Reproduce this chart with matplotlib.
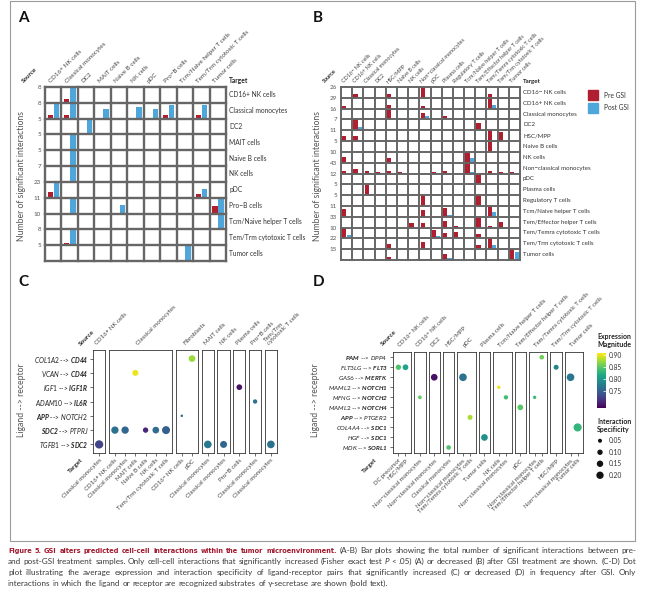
import numpy as np
import matplotlib
matplotlib.use('Agg')
import matplotlib.pyplot as plt
from matplotlib import colors, cm
from matplotlib.patches import Rectangle
from matplotlib.transforms import offset_copy

plt.rcParams['font.family'] = ['Lato', 'DejaVu Sans']
plt.rcParams['mathtext.fontset'] = 'custom'
plt.rcParams['mathtext.rm'] = 'Lato'
plt.rcParams['mathtext.it'] = 'Lato:italic'
plt.rcParams['mathtext.bf'] = 'Lato:italic:bold'

# ---- panel A: interactions increased after GSI ----
a_cells = ['CD16+ NK cells', 'Classical monocytes', 'DC2', 'MAIT cells', 'Naive B cells',
           'NK cells', 'pDC', 'Pro−B cells', 'Tcm/Naive helper T cells',
           'Tem/Trm cytotoxic T cells', 'Tumor cells']
a_row_max = [8, 8, 5, 5, 5, 7, 23, 11, 10, 8, 5]
a_target = [0, 1, 1, 1, 1, 1, 1, 1, 2, 3, 4, 5, 6, 6, 7, 7, 7, 8, 9, 10]
a_source = [1, 0, 1, 3, 5, 6, 7, 9, 2, 1, 1, 1, 0, 9, 1, 4, 10, 10, 1, 8]
a_pre = [2, 2, 2, 0, 0, 0, 2, 2, 0, 0, 0, 0, 9, 6, 0, 0, 5, 0, 1, 0]
a_post = [8, 8, 8, 5, 6, 5, 7, 7, 5, 5, 5, 7, 23, 13, 11, 6, 11, 10, 8, 5]

# ---- panel B: interactions decreased after GSI ----
b_cells = ['CD16− NK cells', 'CD16+ NK cells', 'Classical monocytes', 'DC2', 'HSC/MPP',
           'Naive B cells', 'NK cells', 'Non−classical monocytes', 'pDC', 'Plasma cells',
           'Regulatory T cells', 'Tcm/Naive helper T cells', 'Tem/Effector helper T cells',
           'Tem/Temra cytotoxic T cells', 'Tem/Trm cytotoxic T cells', 'Tumor cells']
b_row_max = [26, 29, 16, 7, 11, 5, 10, 43, 12, 5, 5, 11, 33, 10, 22, 15]
b_target = [0, 0, 0, 0, 1, 1, 1, 1, 2, 2, 2, 3, 3, 4, 4, 4, 4, 5, 6, 6, 6,
            7, 7, 7, 7, 7, 7, 7, 7, 7, 7, 7, 7, 8, 9, 10, 10, 11, 11, 11, 11,
            12, 12, 12, 12, 12, 12, 12, 13, 13, 13, 13, 13, 14, 14, 14, 14, 15, 15, 15]
b_source = [1, 4, 7, 13, 0, 4, 7, 13, 4, 7, 9, 1, 12, 0, 1, 13, 14, 13, 0, 4, 11,
            0, 1, 2, 3, 4, 5, 8, 9, 11, 13, 14, 15, 12, 2, 7, 12, 0, 7, 9, 13,
            6, 7, 9, 10, 12, 13, 14, 0, 8, 9, 10, 12, 4, 7, 12, 13, 4, 9, 15]
b_pre = [8, 8, 26, 8, 8, 9, 7, 29, 16, 10, 5, 7, 5, 5, 5, 11, 9, 5, 5, 4, 10,
         8, 17, 8, 4, 8, 6, 4, 10, 43, 10, 7, 4, 12, 5, 5, 5, 8, 7, 9, 11,
         15, 15, 20, 6, 33, 6, 18, 10, 8, 5, 6, 4, 10, 15, 8, 22, 4, 9, 15]
b_post = [0, 0, 0, 0, 0, 0, 0, 9, 0, 5, 0, 2, 0, 0, 0, 0, 0, 0, 0, 0, 4,
          0, 0, 2, 0, 0, 0, 0, 0, 4, 0, 3, 0, 0, 0, 0, 0, 0, 0, 2, 5,
          0, 0, 0, 0, 0, 0, 0, 3, 2, 0, 1, 0, 0, 0, 0, 9, 0, 3, 11]

# ---- panel C: ligand-receptor pairs increased ----
c_rows = ['COL1A2 --> CD44', 'VCAN --> CD44', 'IGF1 --> IGF1R', 'ADAM10 --> IL6R',
          'APP --> NOTCH2', 'SDC2 --> PTPRJ', 'TGFB1 --> SDC2']
c_bold = ['r', 'r', 'r', 'r', 'l', 'l', 'r']
c_sources = ['CD16+ NK cells', 'Classical monocytes', 'Fibroblasts', 'MAIT cells', 'NK cells',
             'Plasma cells', 'Pro−B cells', 'Tem/Trm cytotoxic T cells']
c_source_labels = ['CD16+ NK cells', 'Classical monocytes', 'Fibroblasts', 'MAIT cells', 'NK cells',
                   'Plasma cells', 'Pro−B cells', 'Tem/Trm\ncytotoxic T cells']
c_targets = [['Classical monocytes'],
             ['CD16+ NK cells', 'Classical monocytes', 'MAIT cells', 'Naive B cells', 'NK cells',
              'Tem/Trm cytotoxic T cells'],
             ['CD16− NK cells', 'pDC'],
             ['Classical monocytes'], ['Classical monocytes'], ['Pro−B cells'],
             ['Classical monocytes'], ['Classical monocytes']]
c_dot_source = ['Fibroblasts', 'Classical monocytes', 'Plasma cells', 'Pro−B cells', 'Fibroblasts',
                'Classical monocytes', 'Classical monocytes', 'Classical monocytes',
                'Classical monocytes', 'Classical monocytes', 'CD16+ NK cells', 'MAIT cells',
                'NK cells', 'Tem/Trm cytotoxic T cells']
c_dot_target = ['pDC', 'MAIT cells', 'Pro−B cells', 'Classical monocytes', 'CD16− NK cells',
                'CD16+ NK cells', 'Classical monocytes', 'Naive B cells', 'NK cells',
                'Tem/Trm cytotoxic T cells', 'Classical monocytes', 'Classical monocytes',
                'Classical monocytes', 'Classical monocytes']
c_dot_pair = ['COL1A2 --> CD44', 'VCAN --> CD44', 'IGF1 --> IGF1R', 'ADAM10 --> IL6R',
              'APP --> NOTCH2', 'SDC2 --> PTPRJ', 'SDC2 --> PTPRJ', 'SDC2 --> PTPRJ',
              'SDC2 --> PTPRJ', 'SDC2 --> PTPRJ', 'TGFB1 --> SDC2', 'TGFB1 --> SDC2',
              'TGFB1 --> SDC2', 'TGFB1 --> SDC2']
c_dot_expr = [0.876, 0.903, 0.69, 0.765, 0.765, 0.767, 0.756, 0.705, 0.76, 0.749,
              0.726, 0.772, 0.754, 0.767]
c_dot_spec = [0.165, 0.13, 0.115, 0.06, 0.01, 0.2, 0.2, 0.1, 0.165, 0.24,
              0.26, 0.22, 0.18, 0.22]

# ---- panel D: ligand-receptor pairs decreased ----
d_rows = ['PAM --> DPP4', 'FLT3LG --> FLT3', 'GAS6 --> MERTK', 'MAML2 --> NOTCH1',
          'MFNG --> NOTCH2', 'MAML2 --> NOTCH4', 'APP --> PTGER2', 'COL4A4 --> SDC1',
          'HGF --> SDC1', 'MDK --> SORL1']
d_bold = ['l', 'r', 'r', 'r', 'r', 'r', 'l', 'r', 'r', 'r']
d_sources = ['CD16− NK cells', 'CD16+ NK cells', 'DC2', 'HSC/MPP', 'pDC', 'Plasma cells',
             'Tcm/Naive helper T cells', 'Tem/Effector helper T cells',
             'Tem/Temra cytotoxic T cells', 'Tem/Trm cytotoxic T cells', 'Tumor cells']
d_targets = [['DC precursor', 'HSC/MPP'], ['Non−classical monocytes'], ['Non−classical monocytes'],
             ['Classical monocytes'], ['Non−classical monocytes', 'Tem/Temra cytotoxic T cells'],
             ['Tumor cells'], ['NK cells', 'Non−classical monocytes'], ['pDC'],
             ['Non−classical monocytes', 'Tem/Effector helper T cells'], ['HSC/MPP'],
             ['Non−classical monocytes', 'Tumor cells']]
d_dot_source = ['Tem/Temra cytotoxic T cells', 'CD16− NK cells', 'CD16− NK cells',
                'Tem/Trm cytotoxic T cells', 'DC2', 'pDC', 'Tumor cells',
                'Tcm/Naive helper T cells', 'CD16+ NK cells', 'Tcm/Naive helper T cells',
                'Tem/Temra cytotoxic T cells', 'Tem/Effector helper T cells', 'pDC',
                'Tumor cells', 'Plasma cells', 'HSC/MPP']
d_dot_target = ['Tem/Effector helper T cells', 'DC precursor', 'HSC/MPP', 'HSC/MPP',
                'Non−classical monocytes', 'Non−classical monocytes', 'Non−classical monocytes',
                'NK cells', 'Non−classical monocytes', 'Non−classical monocytes',
                'Non−classical monocytes', 'pDC', 'Tem/Temra cytotoxic T cells',
                'Tumor cells', 'Tumor cells', 'Classical monocytes']
d_dot_pair = ['PAM --> DPP4', 'FLT3LG --> FLT3', 'FLT3LG --> FLT3', 'FLT3LG --> FLT3',
              'GAS6 --> MERTK', 'GAS6 --> MERTK', 'GAS6 --> MERTK', 'MAML2 --> NOTCH1',
              'MFNG --> NOTCH2', 'MFNG --> NOTCH2', 'MFNG --> NOTCH2', 'MAML2 --> NOTCH4',
              'APP --> PTGER2', 'COL4A4 --> SDC1', 'HGF --> SDC1', 'MDK --> SORL1']
d_dot_expr = [0.86, 0.846, 0.813, 0.783, 0.69, 0.767, 0.772, 0.903, 0.855, 0.84, 0.836,
              0.85, 0.882, 0.832, 0.795, 0.846]
d_dot_spec = [0.07, 0.1, 0.115, 0.085, 0.165, 0.22, 0.22, 0.03, 0.04, 0.06, 0.03,
              0.115, 0.085, 0.25, 0.165, 0.07]

legend_expr_ticks = [0.75, 0.80, 0.85, 0.90]
legend_spec = [0.05, 0.10, 0.15, 0.20]

RED = '#b01f30'
BLUE = '#4fa6da'
GRID = '#666666'
NORM = colors.Normalize(0.68, 0.91)
CMAP = 'viridis'

W, H = 650, 603
fig = plt.figure(figsize=(6.5, 6.03), dpi=100)


def fx(px):
    return px / W


def fy(py):
    return 1 - py / H


def dot_size(v):
    return 129 * np.asarray(v) + 2


def lr_label(s, side):
    lig, rec = s.split(' --> ')
    if side == 'l':
        return r'$\mathbf{%s}$ --> $\mathit{%s}$' % (lig, rec)
    return r'$\mathit{%s}$ --> $\mathbf{%s}$' % (lig, rec)


def bar_panel(box, cells, row_max, tgt, src, pre, post, offs, bw, lw, fs_col, fs_row, src_off):
    # box = (left, top, right, bottom) in pixels
    l, t, r, b = box
    ax = fig.add_axes([fx(l), fy(b), (r - l) / W, (b - t) / H])
    n = len(cells)
    tgt = np.array(tgt)
    src = np.array(src)
    scale = np.array(row_max, float)[tgt]
    base = n - 1 - tgt
    ax.bar(src + offs[0], np.array(pre) / scale, bw, bottom=base, color=RED, lw=0, zorder=1)
    ax.bar(src + offs[1], np.array(post) / scale, bw, bottom=base, color=BLUE, lw=0, zorder=1)
    for k in range(n + 1):
        ax.axvline(k, color=GRID, lw=lw, zorder=3, clip_on=False)
        ax.axhline(k, color=GRID, lw=lw, zorder=3, clip_on=False)
    ax.set_xlim(0, n)
    ax.set_ylim(0, n)
    ax.set_xticks([])
    ax.set_yticks(np.arange(n, 0, -1))
    ax.set_yticklabels([str(v) for v in row_max], fontsize=4.5, color='#555')
    ax.tick_params(axis='y', length=0, pad=3)
    for sp in ax.spines.values():
        sp.set_visible(False)
    tr_row = offset_copy(ax.transData, fig=fig, x=3, y=0, units='dots')
    for i, name in enumerate(cells):
        ax.text(n, n - i - 0.5, name, transform=tr_row, ha='left', va='center',
                fontsize=fs_row, color='#333')
    ax.text(n, n, 'Target', transform=offset_copy(ax.transData, fig=fig, x=3, y=3, units='dots'),
            ha='left', va='bottom', fontsize=fs_row, fontweight='bold', color='#222')
    tr_col = offset_copy(ax.transData, fig=fig, x=-2, y=3, units='dots')
    for c, name in enumerate(cells):
        ax.text(c + 0.5, n, name, transform=tr_col, rotation=45, rotation_mode='anchor',
                ha='left', va='bottom', fontsize=fs_col, color='#444')
    ax.text(src_off, n, 'Source', transform=tr_col, rotation=45, rotation_mode='anchor',
            ha='left', va='bottom', fontsize=fs_col, fontweight='bold', color='#222')
    return ax


def dot_panel(box, gap, sources, src_labels, targets, rows, bold, d_src, d_tgt, d_pair,
              d_expr, d_spec, ex, ey, fs_tick, fs_row):
    # box = (left, top, right, bottom) in pixels
    l, t, r, b = box
    n = len(sources)
    units = [len(tg) - 1 + 2 * ex for tg in targets]
    ppu = (r - l - gap * (n - 1)) / sum(units)
    x = l
    for k, s in enumerate(sources):
        w = units[k] * ppu
        ax = fig.add_axes([fx(x), fy(b), w / W, (b - t) / H])
        x += w + gap
        sel = [i for i in range(len(d_src)) if d_src[i] == s]
        xs = [targets[k].index(d_tgt[i]) for i in sel]
        ys = [rows.index(d_pair[i]) for i in sel]
        ax.scatter(xs, ys, s=dot_size([d_spec[i] for i in sel]), c=[d_expr[i] for i in sel],
                   cmap=CMAP, norm=NORM, edgecolors='none', zorder=3, clip_on=False)
        ax.set_xlim(-ex, len(targets[k]) - 1 + ex)
        ax.set_ylim(len(rows) - 1 + ey, -ey)
        ax.set_xticks(range(len(targets[k])))
        ax.set_xticklabels(targets[k], rotation=45, ha='right', rotation_mode='anchor',
                           fontsize=fs_tick, color='#444')
        if k == 0:
            ax.set_yticks(range(len(rows)))
            ax.set_yticklabels([lr_label(rw, bs) for rw, bs in zip(rows, bold)],
                               fontsize=fs_row, color='#222')
        else:
            ax.set_yticks([])
        ax.tick_params(length=2, width=0.5, color='#333', pad=1.5)
        for sp in ax.spines.values():
            sp.set_linewidth(0.6)
            sp.set_color('#333')
        ax.text(0.5, 1, src_labels[k],
                transform=offset_copy(ax.transAxes, fig=fig, x=-1, y=4, units='dots'),
                rotation=45, rotation_mode='anchor', ha='left', va='bottom',
                fontsize=fs_tick, color='#444', linespacing=1.0)


# bar plots
bar_panel((45, 87, 226, 261), a_cells, a_row_max, a_target, a_source, a_pre, a_post,
          (0.32, 0.70), 0.33, 1.7, 4.5, 4.8, -1.15)
bar_panel((341, 87, 520, 260), b_cells, b_row_max, b_target, b_source, b_pre, b_post,
          (0.3, 0.7), 0.38, 1.4, 4.0, 4.4, -1.2)

fig.text(fx(22), fy(176), 'Number of significant interactions', rotation=90,
         ha='center', va='center', fontsize=6.2, color='#555')
fig.text(fx(318), fy(176), 'Number of significant interactions', rotation=90,
         ha='center', va='center', fontsize=6.2, color='#555')

# pre / post legend
for yy, col, lab in [(90, RED, 'Pre GSI'), (103, BLUE, 'Post GSI')]:
    fig.add_artist(Rectangle((fx(588), fy(yy + 10)), 10 / W, 10 / H, color=col,
                             transform=fig.transFigure))
    fig.text(fx(604), fy(yy + 5), lab, ha='left', va='center', fontsize=4.8, color='#333')

# dot plots
dot_panel((93, 350, 277, 453), 3.5, c_sources, c_source_labels, c_targets, c_rows, c_bold,
          c_dot_source, c_dot_target, c_dot_pair, c_dot_expr, c_dot_spec, 0.6, 0.6, 4.4, 4.8)
dot_panel((392.7, 351.7, 583.3, 453), 3, d_sources, d_sources, d_targets, d_rows, d_bold,
          d_dot_source, d_dot_target, d_dot_pair, d_dot_expr, d_dot_spec, 0.8, 0.55, 4.3, 4.6)

fig.text(fx(22), fy(400), 'Ligand --> receptor', rotation=90, ha='center', va='center',
         fontsize=6.2, color='#555')
fig.text(fx(316), fy(400), 'Ligand --> receptor', rotation=90, ha='center', va='center',
         fontsize=6.2, color='#555')

for px, py in [(82, 347), (384, 347)]:
    fig.text(fx(px), fy(py), 'Source', rotation=45, rotation_mode='anchor', ha='left',
             va='bottom', fontsize=4.6, fontweight='bold', color='#222')
for px, py in [(80, 457), (374, 457)]:
    fig.text(fx(px), fy(py), 'Target', rotation=45, rotation_mode='anchor', ha='right',
             va='top', fontsize=4.6, fontweight='bold', color='#222')

# expression colourbar
fig.text(fx(597), fy(333), 'Expression\nMagnitude', ha='left', va='top', fontsize=5,
         fontweight='bold', color='#222', linespacing=1.1)
cax = fig.add_axes([fx(597), fy(408), 9 / W, 55 / H])
cb = fig.colorbar(cm.ScalarMappable(norm=NORM, cmap=CMAP), cax=cax)
cb.set_ticks(legend_expr_ticks)
cb.set_ticklabels(['%.2f' % v for v in legend_expr_ticks])
cb.outline.set_visible(False)
cax.tick_params(length=2, width=0.5, color='white', direction='in', labelsize=4.8,
                labelcolor='#333', pad=2)

# specificity size legend
fig.text(fx(597), fy(418), 'Interaction\nSpecificity', ha='left', va='top', fontsize=5,
         fontweight='bold', color='#222', linespacing=1.1)
lax = fig.add_axes([fx(594), fy(481), 30 / W, 46 / H])
lax.scatter(np.zeros(len(legend_spec)), np.arange(len(legend_spec)),
            s=dot_size(legend_spec), color='#111', edgecolors='none')
for i, v in enumerate(legend_spec):
    lax.text(1.4, i, '%.2f' % v, ha='left', va='center', fontsize=4.8, color='#333')
lax.set_xlim(-1, 4)
lax.set_ylim(len(legend_spec) - 0.5, -0.5)
lax.axis('off')

# panel letters and border
for lab, px, py in [('A', 18, 11), ('B', 313, 11), ('C', 18, 275), ('D', 313, 275)]:
    fig.text(fx(px), fy(py), lab, ha='left', va='top', fontsize=11, fontweight='bold',
             color='#111')
fig.add_artist(Rectangle((fx(10), fy(541)), 625 / W, 540 / H, fill=False, ec='#9a9a9a',
                         lw=0.8, transform=fig.transFigure))

# caption, justified word by word
caption = [
    [('Figure 5. GSI alters predicted cell-cell interactions within the tumor microenvironment.', 'title'),
     ('(A-B) Bar plots showing the total number of significant interactions between pre-', 'body')],
    [('and post-GSI treatment samples. Only cell-cell interactions that significantly increased (Fisher exact test', 'body'),
     ('P', 'ital'), ('< .05) (A) or decreased (B) after GSI treatment are shown. (C-D) Dot', 'body')],
    [('plot illustrating the average expression and interaction specificity of ligand-receptor pairs that '
      'significantly increased (C) or decreased (D) in frequency after GSI. Only', 'body')],
    [('interactions in which the ligand or receptor are recognized substrates of γ-secretase are shown (bold text).', 'body')],
]
styles = {'title': dict(color='#a3192d', fontweight='bold', family=['DejaVu Sans']),
          'body': dict(color='#3a3a3a'),
          'ital': dict(color='#3a3a3a', fontstyle='italic')}
renderer = fig.canvas.get_renderer()
line_words = []
for li, line in enumerate(caption):
    objs = []
    for seg, st in line:
        for w in seg.split():
            t = fig.text(0, fy(553 + 11 * li), w, ha='left', va='baseline',
                         fontsize=10, **styles[st])
            t.is_title = st == 'title'
            objs.append(t)
    line_words.append(objs)
probe = fig.text(0, 0, 'a a', fontsize=10)
probe2 = fig.text(0, 0, 'aa', fontsize=10)
space10 = probe.get_window_extent(renderer).width - probe2.get_window_extent(renderer).width
probe.remove()
probe2.remove()


def natural_width(objs, sp):
    return sum(t.get_window_extent(renderer).width for t in objs) + sp * (len(objs) - 1)


# body font size set by the body lines, title words sized to fill the first line
fs = min(7.5, 10 * 620 / max(natural_width(o, space10) for o in line_words[1:3]))
for objs in line_words:
    for t in objs:
        t.set_fontsize(fs)
space = space10 * fs / 10
first = line_words[0]
title_w = sum(t.get_window_extent(renderer).width for t in first if t.is_title)
rest_w = natural_width(first, space) - title_w
f_title = min(fs * 1.15, fs * (618 - rest_w) / title_w)
for t in first:
    if t.is_title:
        t.set_fontsize(f_title)
for li, objs in enumerate(line_words):
    widths = [t.get_window_extent(renderer).width for t in objs]
    gap = (628 - sum(widths)) / (len(objs) - 1) if li < len(line_words) - 1 else space
    x = 8
    for t, w in zip(objs, widths):
        t.set_x(fx(x))
        x += w + gap

fig.savefig('out.png', dpi=100)
